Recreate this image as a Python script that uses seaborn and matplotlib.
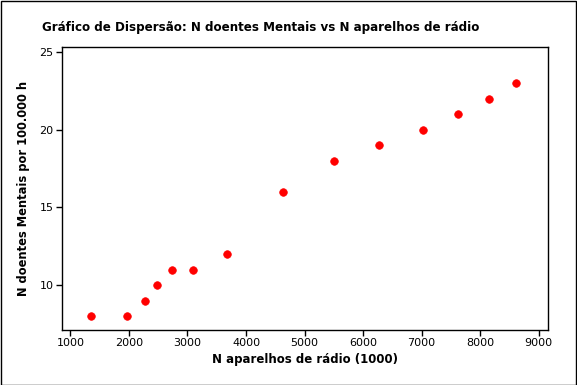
import matplotlib
matplotlib.use("Agg")
import matplotlib.pyplot as plt
import seaborn as sns
import pandas as pd

radios = [1352, 1968, 2275, 2480, 2737, 3096, 3667, 4629, 5506, 6275, 7027, 7626, 8155, 8617]
doentes = [8, 8, 9, 10, 11, 11, 12, 16, 18, 19, 20, 21, 22, 23]
x_ticks = [1000, 2000, 3000, 4000, 5000, 6000, 7000, 8000, 9000]
y_ticks = [10, 15, 20, 25]

df = pd.DataFrame({"radios": radios, "doentes": doentes})

sns.set_style("white")
plt.rcParams['font.family'] = ['DejaVu Sans']
plt.rcParams['font.sans-serif'] = ['DejaVu Sans']
plt.rcParams['text.color'] = 'black'
plt.rcParams['axes.labelcolor'] = 'black'

fig = plt.figure(figsize=(5.77, 3.85), dpi=100)
ax = fig.add_axes([62/577, 1 - 330/385, (548-62)/577, (330-47)/385])

sns.scatterplot(data=df, x="radios", y="doentes", ax=ax, color="#ff0000",
                s=30, edgecolor="#ff0000", linewidth=0.5, zorder=3)

ax.set_xlim(856, 9159)
ax.set_ylim(7.12, 25.32)
ax.set_xticks(x_ticks)
ax.set_yticks(y_ticks)
ax.tick_params(axis='both', which='both', direction='out', length=4, width=1,
               labelsize=8, colors='black', bottom=True, left=True, top=False, right=False, pad=2)
for lbl in ax.get_xticklabels() + ax.get_yticklabels():
    lbl.set_fontfamily('DejaVu Sans')
for s in ax.spines.values():
    s.set_color('black')
    s.set_linewidth(1)

ax.set_xlabel("N aparelhos de rádio (1000)", fontsize=8.5, fontweight='bold', labelpad=3,
              color='black', fontfamily='DejaVu Sans')
ax.set_ylabel("N doentes Mentais por 100.000 h", fontsize=8.3, fontweight='bold', labelpad=7,
              color='black', fontfamily='DejaVu Sans')
fig.text(0.5 * (42 + 479) / 577, 1 - 27/385, "Gráfico de Dispersão: N doentes Mentais vs N aparelhos de rádio",
         ha='center', va='center', fontsize=8.6, fontweight='bold', color='black',
         fontfamily='DejaVu Sans')

border = plt.Rectangle((0.5/577, 0.5/385), 1 - 1.5/577, 1 - 1.5/385, transform=fig.transFigure,
                       fill=False, edgecolor='black', linewidth=1)
fig.patches.append(border)

fig.savefig("out.png", dpi=100, facecolor='white')
